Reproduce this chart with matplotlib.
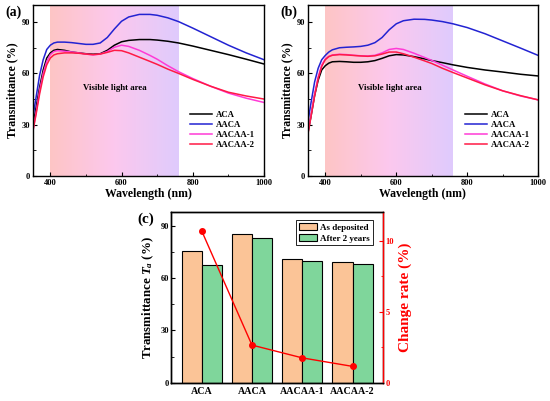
import matplotlib
matplotlib.use('Agg')
import matplotlib.pyplot as plt
from matplotlib.colors import LinearSegmentedColormap
from matplotlib.ticker import MultipleLocator
import numpy as np

plt.rcParams['font.family'] = ['Liberation Serif', 'DejaVu Serif']
plt.rcParams['font.weight'] = 'bold'
plt.rcParams['axes.labelweight'] = 'bold'
plt.rcParams['axes.linewidth'] = 1.0
plt.rcParams['mathtext.fontset'] = 'custom'
plt.rcParams['mathtext.rm'] = 'Liberation Serif:bold'
plt.rcParams['mathtext.it'] = 'Liberation Serif:italic:bold'
plt.rcParams['mathtext.bf'] = 'Liberation Serif:bold'

# wavelengths (nm)
wl = [350, 360, 370, 380, 390, 400, 410, 420, 440, 460, 480, 500, 520, 540,
      560, 580, 600, 620, 650, 680, 700, 730, 760, 800, 850, 900, 950, 1000]

# panel (a): as deposited
a_aca = [28, 40, 52, 62, 69, 72, 73.5, 74, 73.5, 72.5, 72, 71.5, 71.2, 71.5,
         73.5, 76.5, 78.5, 79.3, 79.8, 79.8, 79.5, 78.8, 77.8, 76, 73.5, 71, 68.3, 65.5]
a_aaca = [33, 46, 59, 68, 74, 76.5, 77.8, 78.3, 78.3, 78, 77.5, 77, 77, 77.8,
          81, 86, 90.5, 93, 94.5, 94.5, 94, 92.5, 90.3, 86.5, 81.5, 76.5, 72, 68]
a_aacaa1 = [25, 37, 50, 60, 67, 71, 72.8, 73.3, 73, 72.5, 72, 71.3, 70.8, 71.3,
            72.8, 75.3, 76.5, 75.8, 73.5, 70.5, 68.3, 64.5, 61, 57, 52.5, 48.5, 45.5, 43]
a_aacaa2 = [25, 36, 48, 58, 65, 69, 70.8, 71.5, 72, 72, 71.8, 71.3, 71, 71.3,
            72.3, 73.5, 73.3, 72, 69.5, 67, 65.3, 62.5, 60, 56.5, 52.5, 49, 46.8, 45]

# panel (b): after 2 years
b_aca = [24, 35, 47, 56, 62, 64.5, 66, 66.8, 67, 66.8, 66.5, 66.5, 66.8, 67.5,
         68.8, 70.3, 71, 70.8, 69.8, 68.5, 67.5, 66.3, 65, 63.5, 62, 60.8, 59.5, 58.5]
b_aaca = [30, 43, 55, 63, 68, 70.5, 72.5, 73.8, 75, 75.3, 75.5, 75.8, 76.5, 78,
          81, 85.5, 89, 90.8, 91.7, 91.6, 91.2, 90.3, 89, 86.8, 83.2, 79, 74.8, 70.5]
b_aacaa1 = [24, 36, 48, 58, 65, 68.5, 70, 70.8, 71.2, 71, 70.6, 70.3, 70.2, 70.6,
            72, 74, 74.6, 74, 71.8, 69.3, 67.6, 64.8, 62, 58.3, 53.8, 49.8, 46.8, 44.5]
b_aacaa2 = [23, 35, 47, 57, 64, 68, 69.8, 70.6, 71, 70.8, 70.5, 70.2, 70, 70.3,
            71.3, 72.5, 72.5, 71.5, 69.5, 67.3, 65.8, 63, 60.5, 57.3, 53.3, 49.8, 47, 44.5]

# panel (c)
samples = ['ACA', 'AACA', 'AACAA-1', 'AACAA-2']
t_deposited = [75.7, 85.4, 70.9, 69.0]
t_2years = [67.5, 83.1, 69.8, 68.1]
change_rate = [10.7, 2.65, 1.75, 1.15]

line_colors = ['black', '#2323d2', '#ff3ad6', '#ff1a45']
grad = LinearSegmentedColormap.from_list('vis', ['#fec5c5', '#fcc8ee', '#dfcbfd'])

fig = plt.figure(figsize=(5.5, 4.01), dpi=100)
ax_a = fig.add_axes([0.0591, 0.5611, 0.4209, 0.4264])
ax_b = fig.add_axes([0.5591, 0.5611, 0.4196, 0.4264])
ax_c = fig.add_axes([0.3118, 0.0456, 0.3840, 0.4249])


def draw_spectra(ax, curves, leg_x):
    ax.imshow(np.linspace(0, 1, 256).reshape(1, -1), cmap=grad, aspect='auto',
              extent=[400, 760, 0, 100], zorder=0)
    for ys, c, lab in zip(curves, line_colors, samples):
        ax.plot(wl, ys, color=c, lw=1.1, label=lab, zorder=2)
    ax.set_xlim(350, 1000)
    ax.set_ylim(0, 100)
    ax.xaxis.set_major_locator(MultipleLocator(200))
    ax.xaxis.set_minor_locator(MultipleLocator(100))
    ax.yaxis.set_major_locator(MultipleLocator(30))
    ax.yaxis.set_minor_locator(MultipleLocator(15))
    ax.tick_params(which='both', direction='in', labelsize=6, pad=2)
    ax.tick_params(which='major', length=3)
    ax.tick_params(which='minor', length=1.8)
    ax.set_xlabel('Wavelength (nm)', fontsize=8.5, labelpad=1)
    ax.set_ylabel('Transmittance (%)', fontsize=8.5, labelpad=2)
    ax.text(581, 51.3, 'Visible light area', fontsize=6.3, ha='center', va='center')
    ax.legend(loc='upper left', bbox_to_anchor=(leg_x, 0.378), frameon=False,
              fontsize=6.3, handlelength=2.5, handletextpad=0.45, labelspacing=0.2,
              borderpad=0, borderaxespad=0)


draw_spectra(ax_a, [a_aca, a_aaca, a_aacaa1, a_aacaa2], 0.68)
draw_spectra(ax_b, [b_aca, b_aaca, b_aacaa1, b_aacaa2], 0.682)

# panel (c) bars + change rate
x = np.arange(len(samples))
w = 0.4
ax_c.bar(x - w / 2, t_deposited, w, color='#fbc497', edgecolor='black', lw=0.8,
         label='As deposited', zorder=2)
ax_c.bar(x + w / 2, t_2years, w, color='#7fd69b', edgecolor='black', lw=0.8,
         label='After 2 years', zorder=2)
ax_c.set_xlim(-0.6, 3.6)
ax_c.set_ylim(0, 97.7)
ax_c.set_xticks(x)
ax_c.set_xticklabels(samples)
ax_c.yaxis.set_major_locator(MultipleLocator(30))
ax_c.yaxis.set_minor_locator(MultipleLocator(15))
ax_c.tick_params(axis='x', which='both', direction='in', length=0, labelsize=7.2, pad=3)
ax_c.tick_params(axis='y', which='both', direction='in', labelsize=6, pad=2)
ax_c.tick_params(axis='y', which='major', length=3)
ax_c.tick_params(axis='y', which='minor', length=1.8)
ax_c.set_ylabel(r'Transmittance $T_a$ (%)', fontsize=9.3, labelpad=3)
ax_c.legend(loc='upper right', bbox_to_anchor=(0.953, 0.955), fontsize=6.5,
            fancybox=False, edgecolor='black', framealpha=1, borderaxespad=0,
            handlelength=2.0, handleheight=0.9, handletextpad=0.4, labelspacing=0.25,
            borderpad=0.3).get_frame().set_linewidth(0.6)

ax_r = ax_c.twinx()
ax_r.plot(x, change_rate, color='#ff0000', lw=1.0, marker='o', ms=4, zorder=3)
ax_r.set_ylim(0, 12)
ax_r.yaxis.set_major_locator(MultipleLocator(5))
ax_r.yaxis.set_minor_locator(MultipleLocator(2.5))
ax_r.tick_params(axis='y', which='both', direction='in', colors='#ff0000',
                 labelsize=6, pad=2)
ax_r.tick_params(axis='y', which='major', length=3)
ax_r.tick_params(axis='y', which='minor', length=1.8)
ax_r.spines['right'].set_color('#ff0000')
ax_r.set_ylabel('Change rate (%)', fontsize=11, color='#ff0000', labelpad=3)

fig.text(5 / 550, 1 - 12 / 401, '(a)', fontsize=10, va='center', ha='left')
fig.text(280 / 550, 1 - 12 / 401, '(b)', fontsize=10, va='center', ha='left')
fig.text(137 / 550, 1 - 219 / 401, '(c)', fontsize=11, va='center', ha='left')

fig.savefig('out.png', dpi=100)
